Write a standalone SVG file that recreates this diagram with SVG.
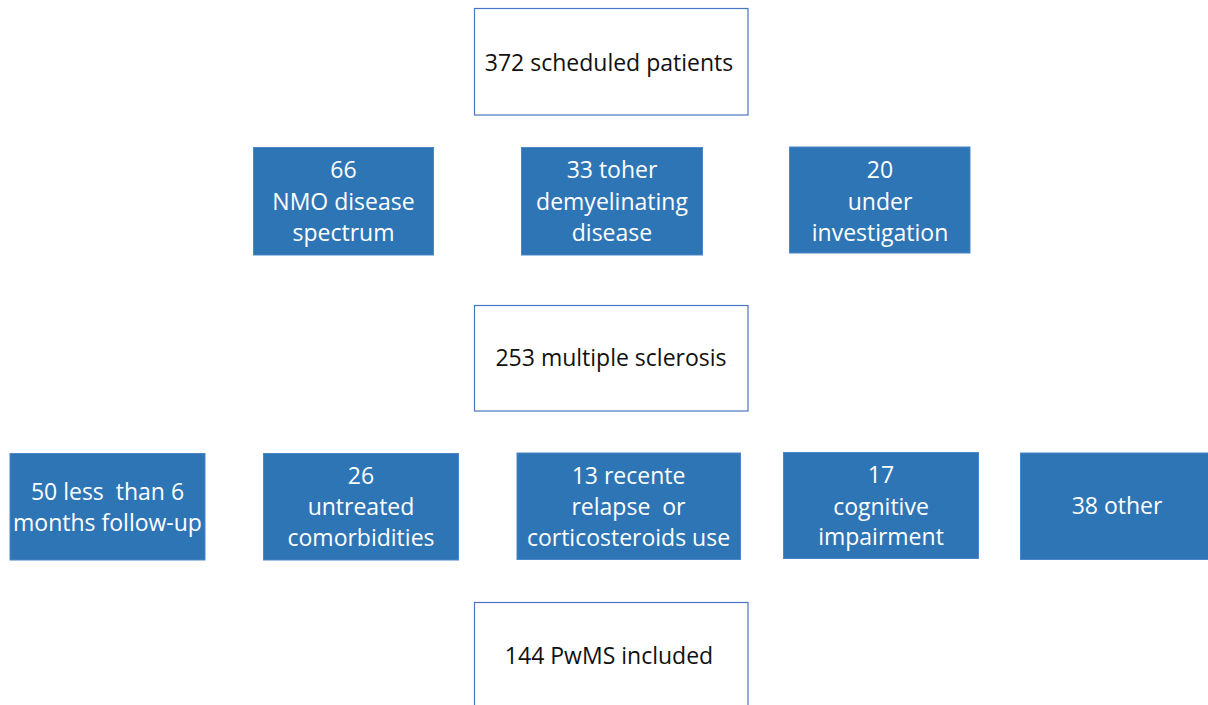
<svg xmlns="http://www.w3.org/2000/svg" width="1208" height="705" viewBox="0 0 1208 705">
<style>
.w{fill:#ffffff;stroke:#4a76c8;stroke-width:1.2}
.b{fill:#2e75b6;stroke:#4a86c8;stroke-width:1}
text{font-family:"Open Sans","Noto Sans","Liberation Sans",sans-serif;font-size:23px;text-anchor:middle;white-space:pre}
.tk{fill:#111111}
.tw{fill:#ffffff}
</style>
<rect width="1208" height="705" fill="#ffffff"/>
<g id="connectors"></g>
<g id="n372"><rect class="w" x="474.5" y="8.5" width="273.5" height="106.5"/><text class="tk" x="609" y="71">372 scheduled patients</text></g>
<g id="n66"><rect class="b" x="253.5" y="147.5" width="180" height="107.5"/><text class="tw" x="343.5" y="178">66</text><text class="tw" x="343.5" y="210">NMO disease</text><text class="tw" x="343.5" y="241">spectrum</text></g>
<g id="n33"><rect class="b" x="521.5" y="147.5" width="181" height="107.5"/><text class="tw" x="612" y="178">33 toher</text><text class="tw" x="612" y="210">demyelinating</text><text class="tw" x="612" y="241">disease</text></g>
<g id="n20"><rect class="b" x="789.5" y="147" width="180.5" height="106"/><text class="tw" x="880" y="177.5">20</text><text class="tw" x="880" y="209.5">under</text><text class="tw" x="880" y="240.5">investigation</text></g>
<g id="n253"><rect class="w" x="474.5" y="305.5" width="273.5" height="105.5"/><text class="tk" x="611" y="366">253 multiple sclerosis</text></g>
<g id="n50"><rect class="b" x="10" y="453.5" width="195" height="106.5"/><text class="tw" x="107.5" y="500" xml:space="preserve">50 less  than 6</text><text class="tw" x="107.5" y="531">months follow-up</text></g>
<g id="n26"><rect class="b" x="263.5" y="453.5" width="195" height="106.5"/><text class="tw" x="361" y="483.5">26</text><text class="tw" x="361" y="515">untreated</text><text class="tw" x="361" y="545.5">comorbidities</text></g>
<g id="n13"><rect class="b" x="517" y="453" width="223.5" height="106.5"/><text class="tw" x="628.5" y="484">13 recente</text><text class="tw" x="628.5" y="515" xml:space="preserve">relapse  or</text><text class="tw" x="628.5" y="546">corticosteroids use</text></g>
<g id="n17"><rect class="b" x="783.5" y="452.5" width="195" height="106"/><text class="tw" x="881" y="483">17</text><text class="tw" x="881" y="515">cognitive</text><text class="tw" x="881" y="545">impairment</text></g>
<g id="n38"><rect class="b" x="1020.5" y="453" width="190" height="106.5"/><text class="tw" x="1117" y="514">38 other</text></g>
<g id="n144"><rect class="w" x="474.5" y="602.5" width="273.5" height="110"/><text class="tk" x="609" y="664">144 PwMS included</text></g>
</svg>
